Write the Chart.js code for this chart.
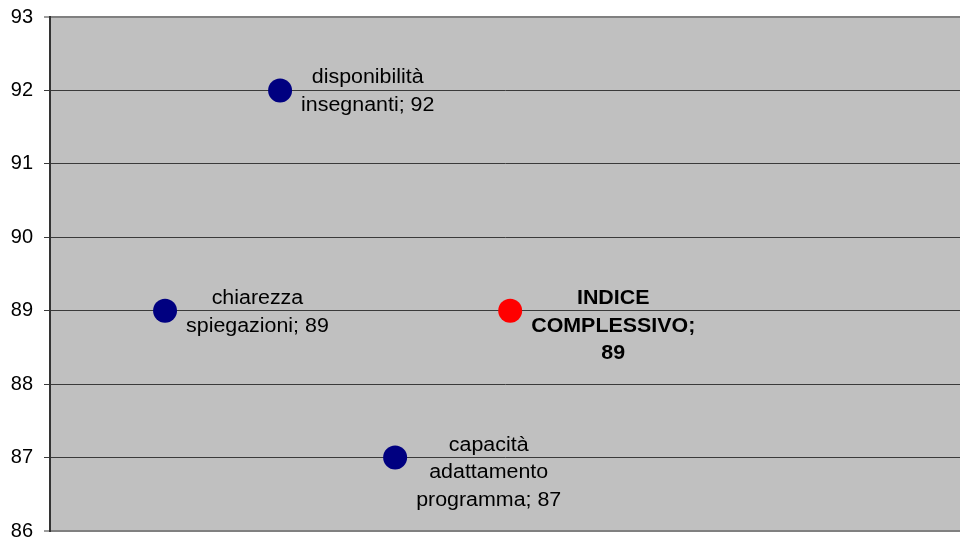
<!DOCTYPE html>
<html>
<head>
<meta charset="utf-8">
<script src="https://cdn.jsdelivr.net/npm/chart.js@4/dist/chart.umd.min.js"></script>
<style>
  html, body { margin: 0; padding: 0; background: #fff; }
  #wrap { width: 960px; height: 543px; }
</style>
</head>
<body>
<div id="wrap"><canvas id="indiceChart"></canvas></div>
<script>
// valori del grafico
const positions = [1, 2, 3, 4];
const values = [89, 92, 87, 89];
const labelLines = [
    ["chiarezza", "spiegazioni; {v}"],
    ["disponibilità", "insegnanti; {v}"],
    ["capacità", "adattamento", "programma; {v}"],
    ["INDICE", "COMPLESSIVO;", "{v}"]
];
const pointColors = ["#000080", "#000080", "#000080", "#ff0000"];
const boldLabel = [false, false, false, true];
const yTicks = [86, 87, 88, 89, 90, 91, 92, 93];

const FONT = "'Liberation Sans', Arial, sans-serif";
const TEXT_STRETCH = 1.07;

// sfondo grigio dell'area del grafico
const plotBackground = {
    id: "plotBackground",
    beforeDraw(chart) {
        const { ctx, chartArea: a } = chart;
        ctx.save();
        ctx.fillStyle = "#c0c0c0";
        ctx.fillRect(a.left, a.top, a.right - a.left, a.bottom - a.top);
        ctx.restore();
    }
};

// etichette a destra di ogni punto, righe centrate
const pointLabels = {
    id: "pointLabels",
    afterDatasetsDraw(chart) {
        const { ctx } = chart;
        const meta = chart.getDatasetMeta(0);
        meta.data.forEach((pt, i) => {
            ctx.save();
            ctx.fillStyle = "#000";
            ctx.textBaseline = "middle";
            ctx.textAlign = "center";
            ctx.font = (boldLabel[i] ? "bold " : "") + "20px " + FONT;
            const lines = labelLines[i].map(s => s.replace("{v}", values[i]));
            const w = Math.max(...lines.map(s => ctx.measureText(s).width)) * TEXT_STRETCH;
            const cx = pt.x + 21 + w / 2;
            ctx.translate(cx, pt.y);
            ctx.scale(TEXT_STRETCH, 1);
            lines.forEach((s, k) => {
                ctx.fillText(s, 0, -12.5 + k * 27.8);
            });
            ctx.restore();
        });
    }
};

new Chart(document.getElementById("indiceChart"), {
    type: "scatter",
    data: {
        datasets: [{
            data: positions.map((x, i) => ({ x: x, y: values[i] })),
            pointRadius: 12,
            pointHoverRadius: 12,
            pointBackgroundColor: pointColors,
            pointBorderColor: pointColors,
            pointBorderWidth: 0
        }]
    },
    options: {
        responsive: true,
        maintainAspectRatio: false,
        animation: false,
        events: [],
        layout: { autoPadding: false, padding: { top: 17, bottom: 12, right: 0, left: 0 } },
        plugins: {
            legend: { display: false },
            tooltip: { enabled: false }
        },
        scales: {
            x: {
                type: "linear",
                display: false,
                min: 0,
                max: 7.91
            },
            y: {
                min: 86,
                max: 93,
                afterFit(scale) {
                    scale.width = 50;
                    scale.paddingTop = 0;
                    scale.paddingBottom = 0;
                },
                afterBuildTicks(scale) { scale.ticks = yTicks.map(v => ({ value: v })); },
                ticks: {
                    color: "#000",
                    padding: 11,
                    font: { family: FONT, size: 20 }
                },
                grid: {
                    color: c => (c.tick && (c.tick.value === 93 || c.tick.value === 86)) ? "#808080" : "#3a3a3a",
                    lineWidth: c => (c.tick && (c.tick.value === 93 || c.tick.value === 86)) ? 2 : 1,
                    tickColor: "#3a3a3a",
                    tickLength: 6,
                    tickWidth: 1
                },
                border: { color: "#333", width: 2 }
            }
        }
    },
    plugins: [plotBackground, pointLabels]
});
</script>
</body>
</html>
